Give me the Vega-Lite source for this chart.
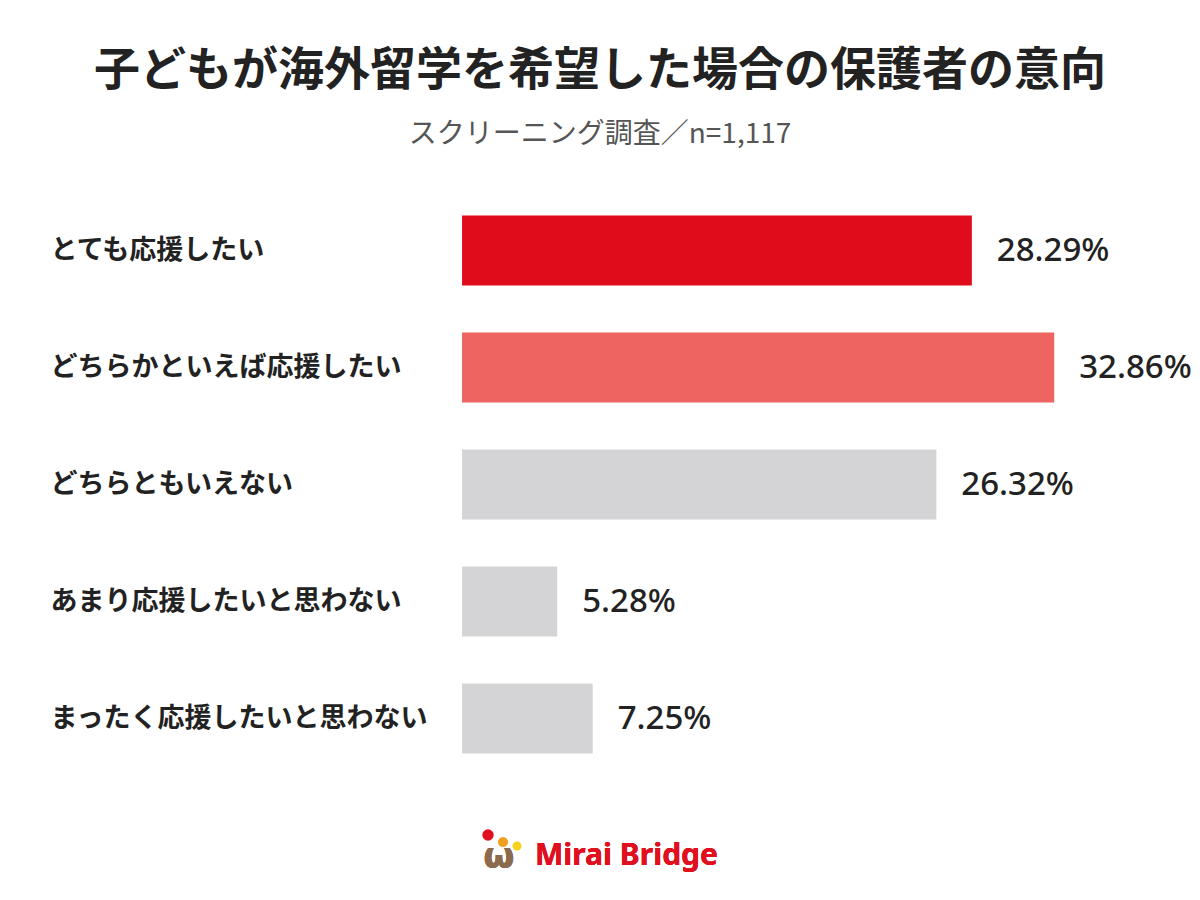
{
  "$schema": "https://vega.github.io/schema/vega-lite/v6.json",
  "background": "white",
  "padding": {"left": 0, "right": 0, "top": 48, "bottom": 0},
  "autosize": {"type": "pad"},
  "config": {"view": {"stroke": null}, "font": "Noto Sans CJK JP"},
  "resolve": {"scale": {"color": "independent", "size": "independent", "x": "independent", "y": "independent"}},
  "title": {
    "text": "子どもが海外留学を希望した場合の保護者の意向",
    "subtitle": "スクリーニング調査／n=1,117",
    "anchor": "middle",
    "font": "Noto Sans CJK JP",
    "fontSize": 46,
    "fontWeight": "bold",
    "color": "#222222",
    "subtitleFont": "Noto Sans CJK JP",
    "subtitleFontSize": 28,
    "subtitleColor": "#555555",
    "subtitlePadding": 26,
    "offset": 42
  },
  "spacing": 40,
  "vconcat": [
    {
      "width": 1200,
      "height": 585,
      "data": {
        "values": [
          {"answer": "とても応援したい", "pct": 0.2829},
          {"answer": "どちらかといえば応援したい", "pct": 0.3286},
          {"answer": "どちらともいえない", "pct": 0.2632},
          {"answer": "あまり応援したいと思わない", "pct": 0.0528},
          {"answer": "まったく応援したいと思わない", "pct": 0.0725}
        ]
      },
      "encoding": {
        "y": {
          "field": "answer",
          "type": "nominal",
          "sort": null,
          "scale": {"paddingInner": 0.4, "paddingOuter": 0.2},
          "axis": {
            "title": null,
            "domain": false,
            "ticks": false,
            "labelAlign": "left",
            "labelPadding": 0,
            "offset": -50,
            "labelFontSize": 27,
            "labelFontWeight": "bold",
            "labelColor": "#222222",
            "labelFont": "Noto Sans CJK JP",
            "labelLimit": 500
          }
        },
        "x": {
          "field": "pct",
          "type": "quantitative",
          "scale": {"domain": [-0.2564, 0.4095], "nice": false, "zero": false},
          "axis": null
        }
      },
      "layer": [
        {
          "mark": {"type": "bar"},
          "encoding": {
            "x": {"datum": 0, "type": "quantitative"},
            "x2": {"field": "pct"},
            "color": {
              "field": "answer",
              "type": "nominal",
              "scale": {
                "domain": ["とても応援したい", "どちらかといえば応援したい", "どちらともいえない", "あまり応援したいと思わない", "まったく応援したいと思わない"],
                "range": ["#E00B1B", "#EE6461", "#D4D3D6", "#D4D3D6", "#D4D3D6"]
              },
              "legend": null
            }
          }
        },
        {
          "mark": {"type": "text", "align": "left", "baseline": "middle", "dx": 25, "fontSize": 33, "fontWeight": 500, "color": "#222222", "font": "Noto Sans"},
          "encoding": {
            "text": {"field": "pct", "type": "quantitative", "format": ".2%"}
          }
        }
      ]
    },
    {
      "width": 1200,
      "height": 60,
      "data": {
        "values": [
          {"item": "red", "lx": 488, "ly": 18},
          {"item": "orange", "lx": 503, "ly": 25},
          {"item": "yellow", "lx": 517, "ly": 29}
        ]
      },
      "layer": [
        {
          "mark": {"type": "text", "text": "ω", "fontSize": 36, "fontWeight": "bold", "color": "#8B6A4E", "baseline": "middle", "align": "center", "font": "DejaVu Sans"},
          "encoding": {
            "x": {"datum": 499, "type": "quantitative", "scale": {"domain": [0, 1200], "nice": false}, "axis": null},
            "y": {"datum": 40, "type": "quantitative", "scale": {"domain": [0, 60], "reverse": true, "nice": false}, "axis": null}
          }
        },
        {
          "mark": {"type": "point", "filled": true, "opacity": 1},
          "encoding": {
            "x": {"field": "lx", "type": "quantitative", "scale": {"domain": [0, 1200], "nice": false}, "axis": null},
            "y": {"field": "ly", "type": "quantitative", "scale": {"domain": [0, 60], "reverse": true, "nice": false}, "axis": null},
            "size": {"field": "item", "type": "nominal", "scale": {"domain": ["red", "orange", "yellow"], "range": [130, 80, 60]}, "legend": null},
            "color": {"field": "item", "type": "nominal", "scale": {"domain": ["red", "orange", "yellow"], "range": ["#E0101E", "#F0A020", "#F5D31A"]}, "legend": null}
          }
        },
        {
          "mark": {"type": "text", "text": "Mirai Bridge", "fontSize": 30, "fontWeight": "bold", "color": "#E0101E", "baseline": "middle", "align": "left", "font": "Noto Sans"},
          "encoding": {
            "x": {"datum": 535, "type": "quantitative", "scale": {"domain": [0, 1200], "nice": false}, "axis": null},
            "y": {"datum": 39, "type": "quantitative", "scale": {"domain": [0, 60], "reverse": true, "nice": false}, "axis": null}
          }
        }
      ]
    }
  ]
}
